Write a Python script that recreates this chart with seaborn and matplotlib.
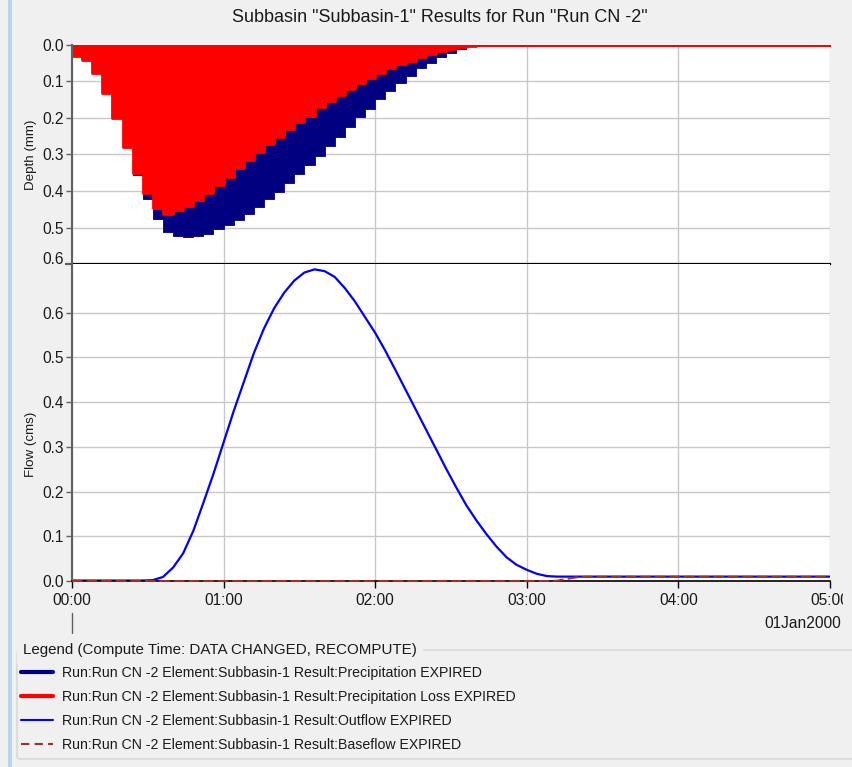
import numpy as np
import pandas as pd
import matplotlib
matplotlib.use("Agg")
import matplotlib.pyplot as plt
import seaborn as sns
from matplotlib.lines import Line2D
from matplotlib.patches import FancyBboxPatch, Rectangle
from matplotlib.transforms import Bbox, TransformedBbox

# ---------------- data ----------------
title = 'Subbasin "Subbasin-1" Results for Run "Run CN -2"'
legend_title = "Legend (Compute Time: DATA CHANGED, RECOMPUTE)"
series_labels = [
    "Run:Run CN -2 Element:Subbasin-1 Result:Precipitation EXPIRED",
    "Run:Run CN -2 Element:Subbasin-1 Result:Precipitation Loss EXPIRED",
    "Run:Run CN -2 Element:Subbasin-1 Result:Outflow EXPIRED",
    "Run:Run CN -2 Element:Subbasin-1 Result:Baseflow EXPIRED",
]
date_label = "01Jan2000"
x_tick_hours = [0, 1, 2, 3, 4, 5]
x_tick_labels = ["00:00", "01:00", "02:00", "03:00", "04:00", "05:00"]
depth_ticks = [0.0, 0.1, 0.2, 0.3, 0.4, 0.5, 0.6]
flow_ticks = [0.0, 0.1, 0.2, 0.3, 0.4, 0.5, 0.6]

interval_min = 4          # hyetograph interval (minutes)
# precipitation depth per 4-minute interval (mm), starting at 00:00
precip = [0.030, 0.041, 0.078, 0.131, 0.201, 0.279, 0.355, 0.423, 0.478, 0.511,
          0.524, 0.525, 0.523, 0.517, 0.505, 0.494, 0.479, 0.464, 0.444, 0.423,
          0.404, 0.379, 0.354, 0.329, 0.304, 0.277, 0.251, 0.224, 0.198, 0.175,
          0.149, 0.126, 0.105, 0.084, 0.064, 0.050, 0.032, 0.021, 0.011, 0.003]
# precipitation loss per interval (mm)
loss = [0.030, 0.041, 0.078, 0.131, 0.201, 0.279, 0.350, 0.406, 0.446, 0.462,
        0.453, 0.440, 0.425, 0.406, 0.384, 0.361, 0.338, 0.316, 0.294, 0.271,
        0.252, 0.230, 0.212, 0.195, 0.171, 0.153, 0.137, 0.121, 0.105, 0.091,
        0.078, 0.064, 0.053, 0.043, 0.034, 0.025, 0.016, 0.011, 0.005, 0.002]

# hydrograph sampled every 4 minutes from 00:00 to 05:00 (cms)
flow_minutes = list(range(0, 301, 4))
outflow = [0.001, 0.001, 0.001, 0.001, 0.001, 0.001, 0.001, 0.001,
           0.002, 0.009, 0.030, 0.062, 0.112, 0.175, 0.240, 0.310, 0.380, 0.445,
           0.510, 0.565, 0.610, 0.645, 0.672, 0.690, 0.697, 0.693, 0.680, 0.655,
           0.625, 0.590, 0.555, 0.515, 0.472, 0.428, 0.384, 0.340, 0.296, 0.252,
           0.210, 0.170, 0.136, 0.105, 0.077, 0.053, 0.036, 0.025, 0.016, 0.011,
           0.0098, 0.0098, 0.0098, 0.0098, 0.0098, 0.0098, 0.0098, 0.0098, 0.0098, 0.0098,
           0.0098, 0.0098, 0.0098, 0.0098, 0.0098, 0.0098, 0.0098, 0.0098, 0.0098, 0.0098,
           0.0098, 0.0098, 0.0098, 0.0098, 0.0098, 0.0098, 0.0098, 0.0098]
baseflow = [0.0] * 48 + [0.0005, 0.005, 0.0085] + [0.0093] * 25

# ---------------- style ----------------
W, H = 853, 767
sns.set_theme(style="white")
plt.rcParams["font.family"] = ["Liberation Sans", "DejaVu Sans"]
plt.rcParams["font.size"] = 10
text_color = "#1a1a1a"
tick_fs = 11.2

fig = plt.figure(figsize=(W / 100, H / 100), dpi=100, facecolor="#F0F0F0")

def ax_rect(x0, y0, x1, y1):
    return [x0 / W, 1 - y1 / H, (x1 - x0) / W, (y1 - y0) / H]

ax_top = fig.add_axes(ax_rect(72, 45, 830, 264))
ax_bot = fig.add_axes(ax_rect(72, 264, 830, 581), sharex=ax_top)

# ---------------- hyetograph ----------------
bw = interval_min / 60.0
centers_p = (np.arange(len(precip)) * interval_min + interval_min / 2) / 60.0
hy = pd.DataFrame({"t": centers_p, "precip": precip, "loss": loss})

sns.histplot(data=hy, x="t", weights="precip", binwidth=bw, binrange=(0, 5),
             ax=ax_top, element="step", fill=True, color="#000080", alpha=1,
             edgecolor="#000080", linewidth=0.6)
sns.histplot(data=hy, x="t", weights="loss", binwidth=bw, binrange=(0, 5),
             ax=ax_top, element="step", fill=True, color="#FF0000", alpha=1,
             edgecolor="#FF0000", linewidth=2)

ax_top.set_ylim(0.6, 0.0)
ax_top.set_yticks(depth_ticks)
ax_top.set_yticklabels([f"{v:.1f}" for v in depth_ticks])
ax_top.set_ylabel("Depth (mm)", color=text_color, fontsize=9.6)
ax_top.yaxis.set_label_coords(-0.046, 0.5)
ax_top.set_xlabel("")

# ---------------- hydrograph ----------------
hyd = pd.DataFrame({"t": np.array(flow_minutes) / 60.0,
                    "outflow": outflow, "baseflow": baseflow})
sns.lineplot(data=hyd, x="t", y="outflow", ax=ax_bot, color="#0000FF", lw=1.6)
sns.lineplot(data=hyd, x="t", y="baseflow", ax=ax_bot, color="#993333", lw=1.5,
             linestyle=(0, (5, 2)), zorder=3, clip_on=False)
ax_bot.set_ylim(0, 0.709)
ax_bot.set_yticks(flow_ticks)
ax_bot.set_yticklabels([f"{v:.1f}" for v in flow_ticks])
ax_bot.set_ylabel("Flow (cms)", color=text_color, fontsize=9.6)
ax_bot.yaxis.set_label_coords(-0.046, 0.432)
ax_bot.set_xlabel("")
ax_bot.set_xlim(0, 5)
ax_bot.set_xticks(x_tick_hours)
ax_bot.set_xticklabels(x_tick_labels)

# ---------------- axes styling ----------------
for ax in (ax_top, ax_bot):
    ax.set_facecolor("white")
    ax.set_axisbelow(True)
    ax.grid(True, color="#C8C8C8", lw=1)
    ax.spines["top"].set_visible(False)
    ax.spines["right"].set_visible(False)
    ax.spines["left"].set_color("#606060")
    ax.spines["left"].set_linewidth(1.5)
    ax.tick_params(axis="y", direction="out", length=4, width=1, color="#606060",
                   labelsize=tick_fs, labelcolor=text_color, pad=2, left=True)

ax_top.spines["bottom"].set_color("black")
ax_top.spines["bottom"].set_linewidth(1.6)
ax_top.tick_params(axis="x", bottom=False, labelbottom=False)
ax_bot.spines["bottom"].set_color("black")
ax_bot.spines["bottom"].set_linewidth(1.2)
ax_bot.tick_params(axis="x", direction="out", length=5, width=1, color="black",
                   labelsize=tick_fs, labelcolor=text_color, pad=3.5, bottom=True)

# the separator tick at 0.6 of the depth panel is longer and heavier
sep_tick = ax_top.yaxis.get_major_ticks()[-1]
sep_tick.tick1line.set_markersize(5.2)
sep_tick.tick1line.set_markeredgewidth(1.6)
sep_tick.tick1line.set_color("black")
sep_tick.label1.set_verticalalignment("baseline")

# clip last x tick label at the panel edge like the original window
clip = TransformedBbox(Bbox([[0, 0], [843 / W, 1]]), fig.transFigure)
for lab in ax_bot.get_xticklabels():
    lab.set_clip_box(clip)
    lab.set_clip_on(True)

# ---------------- annotations ----------------
fig.text(440 / W, 1 - 18 / H, title, ha="center", va="center", fontsize=13,
         color=text_color)
fig.text(841 / W, 1 - 624 / H, date_label, ha="right", va="center",
         fontsize=tick_fs, color=text_color)
fig.add_artist(Line2D([72 / W, 72 / W], [1 - 613 / H, 1 - 633 / H],
                      transform=fig.transFigure, color="#606060", lw=1))
# left blue window stripe
fig.add_artist(Rectangle((8 / W, 0), 4 / W, 1, transform=fig.transFigure,
                         facecolor="#BCD3EC", edgecolor="none"))

# ---------------- legend group box ----------------
fig.add_artist(FancyBboxPatch((17 / W, 1 - 759 / H), 900 / W, 109 / H,
                              boxstyle="round,pad=0,rounding_size=0.004",
                              transform=fig.transFigure, facecolor="none",
                              edgecolor="#D5D5D5", lw=1))
fig.text(23 / W, 1 - 650 / H, legend_title, ha="left", va="center",
         fontsize=10.9, color=text_color, backgroundcolor="#F0F0F0")

handles = [
    Line2D([], [], color="#000080", lw=3),
    Line2D([], [], color="#FF0000", lw=3),
    Line2D([], [], color="#0000FF", lw=1.5),
    Line2D([], [], color="#993333", lw=1.5, linestyle=(0, (4, 2.5))),
]
leg = fig.legend(handles, series_labels, loc="upper left",
                 bbox_to_anchor=(20.7 / W, 1 - 666 / H), frameon=False,
                 borderpad=0, borderaxespad=0, handlelength=2.3,
                 handletextpad=0.6, labelspacing=0.70, fontsize=10.2)
for t in leg.get_texts():
    t.set_color(text_color)

fig.savefig("out.png", dpi=100, facecolor=fig.get_facecolor())
